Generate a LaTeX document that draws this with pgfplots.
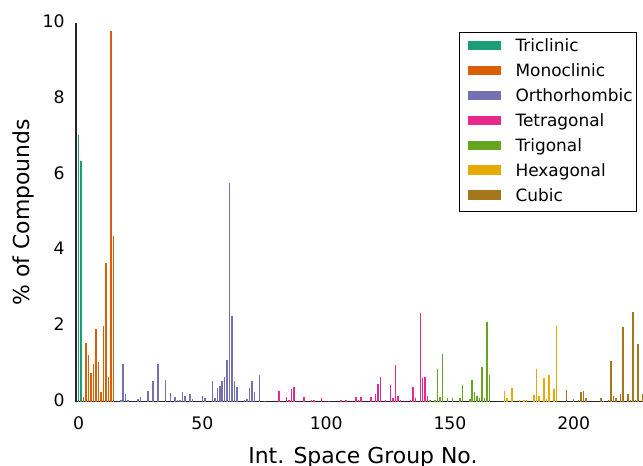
\documentclass[border=0pt]{standalone}
\usepackage{pgfplots}
\pgfplotsset{compat=1.18}
\usepackage{fontspec}
\setmainfont{DejaVu Sans}
\usetikzlibrary{calc}

% Dark2 palette, one colour per crystal system
\definecolor{tricl}{HTML}{1B9E77}
\definecolor{monocl}{HTML}{D95F02}
\definecolor{ortho}{HTML}{7570B3}
\definecolor{tetra}{HTML}{E7298A}
\definecolor{trig}{HTML}{66A61E}
\definecolor{hexa}{HTML}{E6AB02}
\definecolor{cubic}{HTML}{A6761D}

\pgfplotsset{
  sgbar/.style={ycomb, mark=none, line width=1.5bp, line cap=butt, color=#1, forget plot},
  sgkey/.style={legend image code/.code={%
      \path[draw=none] (-3.7bp,-7bp) rectangle (33bp,7bp);
      \fill[draw=none, fill=#1] (0bp,-3.15bp) rectangle (33bp,6.15bp);}},
}

\begin{document}
\begin{tikzpicture}
\begin{axis}[
  scale only axis,
  width=567bp, height=378.5bp,
  xmin=-1.09, xmax=228.0,
  ymin=0, ymax=10,
  axis lines*=left,
  axis line style={draw=black!85, line width=1.1bp},
  major tick length=0pt,
  xtick={0,50,100,150,200},
  ytick={0,2,4,6,8,10},
  /pgf/number format/assume math mode=true,
  tick label style={font=\fontsize{17.3}{20}\selectfont},
  xticklabel style={yshift=-11.7bp},
  yticklabel style={xshift=-8bp, yshift=1.5bp},
  xlabel={Int. Space Group No.},
  ylabel={\% of Compounds},
  every axis x label/.style={at={(axis description cs:0.506,0)}, anchor=base,
    yshift=-61.5bp, font=\fontsize{22}{26}\selectfont},
  every axis y label/.style={at={(axis description cs:-0.0935,0.5)}, anchor=center,
    rotate=90, font=\fontsize{22}{26}\selectfont},
  legend cell align=left,
  legend style={at={(0.9894,0.977)}, anchor=north east,
    draw=black, line width=0.8bp,
    inner xsep=4bp, inner ysep=7.3bp,
    font=\fontsize{17}{20}\selectfont,
    row sep=9.5bp,
    nodes={inner sep=0pt, text height=12.4bp, text depth=3bp},
    /tikz/every odd column/.append style={column sep=15bp}},
]
\coordinate (bl) at (rel axis cs:0,0);
\coordinate (tr) at (rel axis cs:1,1);

\addplot[sgbar=tricl] coordinates {(0,7.05) (1,6.35)};

\addplot[sgbar=monocl] coordinates {
(2,0.12) (3,1.55) (4,1.22) (5,0.74) (6,1.00) (7,1.91) (8,1.05)
(9,0.24) (10,2.00) (11,3.65) (12,0.65) (13,9.78) (14,4.38)};

\addplot[sgbar=ortho] coordinates {
(17,0.05) (18,0.99) (19,0.19) (20,0.03) (24,0.06) (25,0.13) (28,0.29)
(30,0.54) (32,0.98) (35,0.56) (37,0.23) (39,0.11) (40,0.03) (41,0.03)
(42,0.24) (43,0.14) (45,0.19) (46,0.06) (50,0.15) (51,0.09) (54,0.55)
(55,0.08) (56,0.35) (57,0.41) (58,0.55) (59,0.64) (60,1.10) (61,5.78)
(62,2.25) (63,0.54) (64,0.39) (67,0.03) (68,0.06) (69,0.35) (70,0.54)
(71,0.24) (73,0.69)};

\addplot[sgbar=tetra] coordinates {
(75,0.02) (81,0.27) (84,0.12) (85,0.05) (86,0.32) (87,0.37) (91,0.12)
(94,0.05) (95,0.04) (98,0.08) (101,0.02) (106,0.05) (108,0.03) (112,0.11)
(113,0.04) (114,0.12) (118,0.11) (120,0.19) (121,0.46) (122,0.66) (124,0.04)
(126,0.43) (127,0.08) (128,0.96) (129,0.14) (130,0.04) (134,0.04) (135,0.39)
(136,0.10) (138,2.35) (139,0.62) (140,0.65) (141,0.15)};

\addplot[sgbar=trig] coordinates {
(142,0.05) (144,0.04) (145,0.87) (146,0.12) (147,1.25) (149,0.09) (151,0.10)
(154,0.08) (155,0.43) (158,0.06) (159,0.58) (160,0.26) (161,0.15) (162,0.08)
(163,0.92) (164,0.08) (165,2.09) (166,0.69)};

\addplot[sgbar=hexa] coordinates {
(172,0.28) (173,0.08) (175,0.36) (178,0.04) (180,0.05) (181,0.04) (184,0.18)
(185,0.86) (186,0.15) (188,0.61) (189,0.07) (190,0.71) (192,0.33) (193,1.99)};

\addplot[sgbar=cubic] coordinates {
(197,0.31) (200,0.06) (202,0.05) (203,0.26) (204,0.27) (205,0.09) (211,0.08)
(212,0.02) (214,0.05) (215,1.06) (216,0.14) (217,0.08) (219,0.19) (220,1.96)
(222,0.19) (223,0.04) (224,2.37) (225,0.04) (226,1.52) (228,0.19) (229,0.35)};

\addlegendimage{sgkey=tricl}\addlegendentry{Triclinic}
\addlegendimage{sgkey=monocl}\addlegendentry{Monoclinic}
\addlegendimage{sgkey=ortho}\addlegendentry{Orthorhombic}
\addlegendimage{sgkey=tetra}\addlegendentry{Tetragonal}
\addlegendimage{sgkey=trig}\addlegendentry{Trigonal}
\addlegendimage{sgkey=hexa}\addlegendentry{Hexagonal}
\addlegendimage{sgkey=cubic}\addlegendentry{Cubic}
\end{axis}
\pgfresetboundingbox
\path ($(bl)+(-76bp,-64.5bp)$) rectangle ($(tr)+(0bp,23bp)$);
\end{tikzpicture}
\end{document}
